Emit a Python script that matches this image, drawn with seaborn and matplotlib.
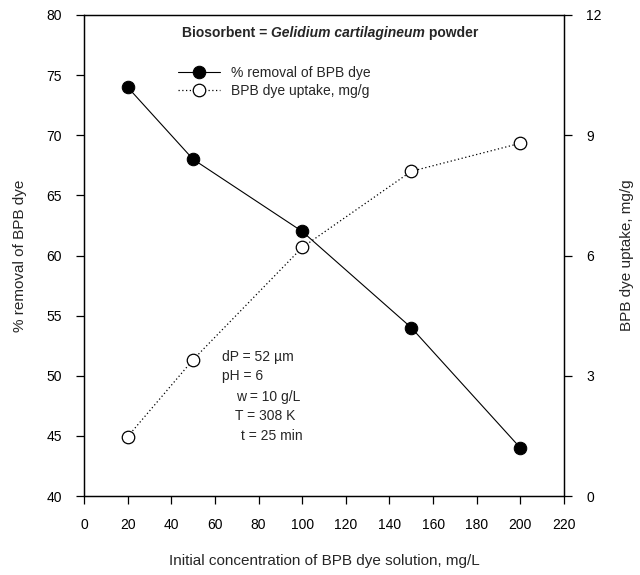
import matplotlib
matplotlib.use("Agg")
import matplotlib.pyplot as plt
import seaborn as sns
import pandas as pd

# Data
conc = [20, 50, 100, 150, 200]
removal = [74, 68, 62, 54, 44]
uptake = [1.48, 3.4, 6.2, 8.1, 8.8]
x_ticks = [0, 20, 40, 60, 80, 100, 120, 140, 160, 180, 200, 220]
y_left_ticks = [40, 45, 50, 55, 60, 65, 70, 75, 80]
y_right_ticks = [0, 3, 6, 9, 12]
conditions = ["dP = 52 \u00b5m", "pH = 6", "w = 10 g/L", "T = 308 K", "t = 25 min"]

sns.set_style("ticks")
plt.rcParams['font.family'] = ['Liberation Sans', 'DejaVu Sans']
plt.rcParams['font.size'] = 10

df = pd.DataFrame({"conc": conc, "removal": removal, "uptake": uptake})

fig = plt.figure(figsize=(6.4, 5.75), dpi=100)
ax = fig.add_axes([84/640, 1-496/575, 480/640, 481/575])
ax2 = ax.twinx()

sns.lineplot(data=df, x="conc", y="removal", ax=ax, color="black", lw=0.8,
             marker="o", markersize=9, markerfacecolor="black",
             markeredgecolor="black", label="% removal of BPB dye", legend=False)
sns.lineplot(data=df, x="conc", y="uptake", ax=ax2, color="black", lw=0.9,
             linestyle=(0, (1, 2)), marker="o", markersize=9,
             markerfacecolor="white", markeredgecolor="black", markeredgewidth=0.9,
             label="BPB dye uptake, mg/g", legend=False)

ax.set_xlim(0, 220)
ax.set_ylim(40, 80)
ax2.set_ylim(0, 12)
ax.set_xticks(x_ticks)
ax.set_yticks(y_left_ticks)
ax2.set_yticks(y_right_ticks)

for a in (ax, ax2):
    for s in a.spines.values():
        s.set_color("black")
        s.set_linewidth(0.9)
        s.set_visible(True)
    a.tick_params(direction="out", length=6, width=0.9, colors="black",
                  labelsize=10, pad=10)

ax.set_xlabel("Initial concentration of BPB dye solution, mg/L", fontsize=11, labelpad=16)
ax.set_ylabel("% removal of BPB dye", fontsize=11, labelpad=14)
ax2.set_ylabel("BPB dye uptake, mg/g", fontsize=11, labelpad=13)

# Title inside axes: mixed bold / bold italic
t1 = ax.text(0.10, 0.978, "Biosorbent = ", transform=ax.transAxes, fontsize=10,
             fontweight="bold", va="top", ha="left")
t2 = ax.annotate("Gelidium cartilagineum", xy=(1, 0), xycoords=t1, fontsize=10,
                 fontweight="bold", fontstyle="italic", va="bottom", ha="left")
t3 = ax.annotate(" powder", xy=(1, 0), xycoords=t2, fontsize=10,
                 fontweight="bold", va="bottom", ha="left")
# center the title group at x ~ 330 px
fig.canvas.draw()
r = fig.canvas.get_renderer()
b1 = t1.get_window_extent(r)
b3 = t3.get_window_extent(r)
center = (b1.x0 + b3.x1) / 2
shift_px = 330 - center
ax_w_px = ax.get_window_extent(r).width
t1.set_x(0.10 + shift_px / ax_w_px)

h1, l1 = ax.get_legend_handles_labels()
h2, l2 = ax2.get_legend_handles_labels()
leg = ax2.legend(h1 + h2, l1 + l2, loc="upper left", bbox_to_anchor=(0.17, 0.92),
                 frameon=False, fontsize=10, handlelength=3.0, handletextpad=0.8,
                 labelspacing=0.3)

# Conditions annotation
xs = [222, 222, 236, 235, 241]
ys = [357, 376, 397, 416, 436]
for txt, px, py in zip(conditions, xs, ys):
    fig.text(px/640, 1-py/575, txt, fontsize=10, va="center", ha="left")

fig.savefig("out.png", dpi=100)
